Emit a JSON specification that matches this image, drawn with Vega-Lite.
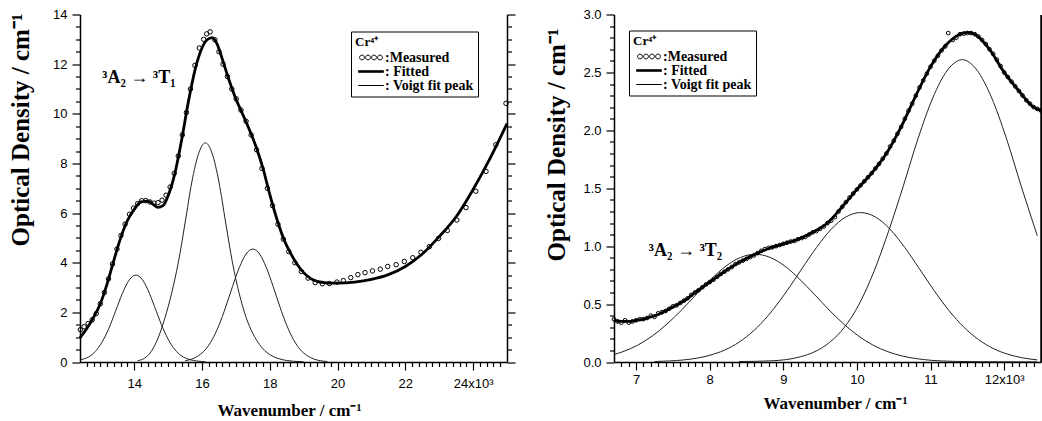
{
  "$schema": "https://vega.github.io/schema/vega-lite/v6.json",
  "background": "white",
  "padding": {"left": 7, "top": 8.5, "right": 0, "bottom": 0},
  "spacing": 27,
  "resolve": {
    "scale": {"x": "independent", "y": "independent", "shape": "independent"},
    "legend": {"shape": "independent"}
  },
  "config": {
    "view": {"stroke": null},
    "axis": {
      "grid": false,
      "domainColor": "black",
      "domainWidth": 1.5,
      "tickColor": "black",
      "tickWidth": 1.2,
      "labelColor": "black",
      "labelFont": "Liberation Sans",
      "labelFontSize": 13,
      "labelOverlap": false,
      "labelFlush": false,
      "labelBound": false,
      "titleFont": "Liberation Serif",
      "titleFontWeight": "bold",
      "titleColor": "black"
    },
    "legend": {
      "titleFont": "Liberation Serif",
      "titleFontSize": 13,
      "titleFontWeight": "bold",
      "titleColor": "black",
      "labelFont": "Liberation Serif",
      "labelFontSize": 14,
      "labelFontWeight": "bold",
      "labelColor": "black",
      "symbolSize": 64,
      "symbolStrokeWidth": 1,
      "symbolStrokeColor": "black",
      "symbolOffset": 9,
      "labelOffset": 7,
      "rowPadding": 0,
      "titlePadding": 2,
      "padding": 4,
      "strokeColor": "black",
      "fillColor": "white",
      "labelLimit": 300
    }
  },
  "datasets": {
    "cr_t1": [
      {"s": "Measured", "wn": 12.41, "od": 1.3}, {"s": "Measured", "wn": 12.52, "od": 1.42}, {"s": "Measured", "wn": 12.64, "od": 1.55}, {"s": "Measured", "wn": 12.76, "od": 1.7}, {"s": "Measured", "wn": 12.88, "od": 1.95}, {"s": "Measured", "wn": 13.0, "od": 2.35}, {"s": "Measured", "wn": 13.12, "od": 2.8}, {"s": "Measured", "wn": 13.24, "od": 3.35}, {"s": "Measured", "wn": 13.36, "od": 3.95}, {"s": "Measured", "wn": 13.49, "od": 4.55}, {"s": "Measured", "wn": 13.61, "od": 5.1}, {"s": "Measured", "wn": 13.73, "od": 5.55}, {"s": "Measured", "wn": 13.86, "od": 5.95}, {"s": "Measured", "wn": 13.98, "od": 6.2}, {"s": "Measured", "wn": 14.1, "od": 6.38}, {"s": "Measured", "wn": 14.22, "od": 6.5}, {"s": "Measured", "wn": 14.34, "od": 6.5}, {"s": "Measured", "wn": 14.46, "od": 6.45}, {"s": "Measured", "wn": 14.58, "od": 6.4}, {"s": "Measured", "wn": 14.7, "od": 6.42}, {"s": "Measured", "wn": 14.82, "od": 6.52}, {"s": "Measured", "wn": 14.94, "od": 6.72}, {"s": "Measured", "wn": 15.06, "od": 7.05}, {"s": "Measured", "wn": 15.18, "od": 7.6}, {"s": "Measured", "wn": 15.3, "od": 8.3}, {"s": "Measured", "wn": 15.42, "od": 9.15}, {"s": "Measured", "wn": 15.54, "od": 10.05}, {"s": "Measured", "wn": 15.66, "od": 11.0}, {"s": "Measured", "wn": 15.79, "od": 11.95}, {"s": "Measured", "wn": 15.92, "od": 12.65}, {"s": "Measured", "wn": 16.05, "od": 13.0}, {"s": "Measured", "wn": 16.14, "od": 13.22}, {"s": "Measured", "wn": 16.24, "od": 13.3}, {"s": "Measured", "wn": 16.38, "od": 12.98}, {"s": "Measured", "wn": 16.5, "od": 12.5}, {"s": "Measured", "wn": 16.62, "od": 12.0}, {"s": "Measured", "wn": 16.75, "od": 11.5}, {"s": "Measured", "wn": 16.88, "od": 11.0}, {"s": "Measured", "wn": 17.01, "od": 10.6}, {"s": "Measured", "wn": 17.15, "od": 10.15}, {"s": "Measured", "wn": 17.3, "od": 9.7}, {"s": "Measured", "wn": 17.45, "od": 9.15}, {"s": "Measured", "wn": 17.61, "od": 8.55}, {"s": "Measured", "wn": 17.77, "od": 7.8}, {"s": "Measured", "wn": 17.93, "od": 7.0}, {"s": "Measured", "wn": 18.08, "od": 6.3}, {"s": "Measured", "wn": 18.24, "od": 5.55}, {"s": "Measured", "wn": 18.4, "od": 4.95}, {"s": "Measured", "wn": 18.56, "od": 4.45}, {"s": "Measured", "wn": 18.74, "od": 4.0}, {"s": "Measured", "wn": 18.93, "od": 3.65}, {"s": "Measured", "wn": 19.13, "od": 3.38}, {"s": "Measured", "wn": 19.34, "od": 3.2}, {"s": "Measured", "wn": 19.55, "od": 3.15}, {"s": "Measured", "wn": 19.76, "od": 3.16}, {"s": "Measured", "wn": 19.98, "od": 3.22}, {"s": "Measured", "wn": 20.17, "od": 3.28}, {"s": "Measured", "wn": 20.39, "od": 3.4}, {"s": "Measured", "wn": 20.6, "od": 3.52}, {"s": "Measured", "wn": 20.81, "od": 3.6}, {"s": "Measured", "wn": 21.03, "od": 3.67}, {"s": "Measured", "wn": 21.26, "od": 3.74}, {"s": "Measured", "wn": 21.48, "od": 3.85}, {"s": "Measured", "wn": 21.73, "od": 3.92}, {"s": "Measured", "wn": 21.97, "od": 4.05}, {"s": "Measured", "wn": 22.22, "od": 4.2}, {"s": "Measured", "wn": 22.46, "od": 4.42}, {"s": "Measured", "wn": 22.71, "od": 4.65}, {"s": "Measured", "wn": 22.98, "od": 4.98}, {"s": "Measured", "wn": 23.24, "od": 5.3}, {"s": "Measured", "wn": 23.52, "od": 5.72}, {"s": "Measured", "wn": 23.79, "od": 6.22}, {"s": "Measured", "wn": 24.08, "od": 6.88}, {"s": "Measured", "wn": 24.38, "od": 7.68}, {"s": "Measured", "wn": 24.67, "od": 8.75}, {"s": "Measured", "wn": 24.97, "od": 10.42},

      {"s": "Fitted", "wn": 12.4, "od": 0.97}, {"s": "Fitted", "wn": 12.6, "od": 1.35}, {"s": "Fitted", "wn": 12.8, "od": 1.8}, {"s": "Fitted", "wn": 13.0, "od": 2.35}, {"s": "Fitted", "wn": 13.2, "od": 3.15}, {"s": "Fitted", "wn": 13.4, "od": 4.1}, {"s": "Fitted", "wn": 13.6, "od": 5.0}, {"s": "Fitted", "wn": 13.8, "od": 5.7}, {"s": "Fitted", "wn": 14.0, "od": 6.15}, {"s": "Fitted", "wn": 14.2, "od": 6.45}, {"s": "Fitted", "wn": 14.4, "od": 6.48}, {"s": "Fitted", "wn": 14.55, "od": 6.36}, {"s": "Fitted", "wn": 14.7, "od": 6.23}, {"s": "Fitted", "wn": 14.85, "od": 6.3}, {"s": "Fitted", "wn": 15.0, "od": 6.7}, {"s": "Fitted", "wn": 15.2, "od": 7.6}, {"s": "Fitted", "wn": 15.4, "od": 8.95}, {"s": "Fitted", "wn": 15.6, "od": 10.5}, {"s": "Fitted", "wn": 15.8, "od": 11.8}, {"s": "Fitted", "wn": 16.0, "od": 12.65}, {"s": "Fitted", "wn": 16.15, "od": 12.98}, {"s": "Fitted", "wn": 16.3, "od": 13.07}, {"s": "Fitted", "wn": 16.45, "od": 12.8}, {"s": "Fitted", "wn": 16.6, "od": 12.2}, {"s": "Fitted", "wn": 16.8, "od": 11.35}, {"s": "Fitted", "wn": 17.0, "od": 10.6}, {"s": "Fitted", "wn": 17.2, "od": 9.98}, {"s": "Fitted", "wn": 17.4, "od": 9.35}, {"s": "Fitted", "wn": 17.6, "od": 8.65}, {"s": "Fitted", "wn": 17.8, "od": 7.8}, {"s": "Fitted", "wn": 18.0, "od": 6.75}, {"s": "Fitted", "wn": 18.2, "od": 5.8}, {"s": "Fitted", "wn": 18.4, "od": 5.0}, {"s": "Fitted", "wn": 18.6, "od": 4.42}, {"s": "Fitted", "wn": 18.8, "od": 3.95}, {"s": "Fitted", "wn": 19.0, "od": 3.6}, {"s": "Fitted", "wn": 19.2, "od": 3.37}, {"s": "Fitted", "wn": 19.4, "od": 3.25}, {"s": "Fitted", "wn": 19.6, "od": 3.2}, {"s": "Fitted", "wn": 19.8, "od": 3.18}, {"s": "Fitted", "wn": 20.0, "od": 3.18}, {"s": "Fitted", "wn": 20.5, "od": 3.22}, {"s": "Fitted", "wn": 21.0, "od": 3.33}, {"s": "Fitted", "wn": 21.5, "od": 3.52}, {"s": "Fitted", "wn": 22.0, "od": 3.85}, {"s": "Fitted", "wn": 22.5, "od": 4.35}, {"s": "Fitted", "wn": 23.0, "od": 5.05}, {"s": "Fitted", "wn": 23.5, "od": 5.85}, {"s": "Fitted", "wn": 24.0, "od": 6.95}, {"s": "Fitted", "wn": 24.5, "od": 8.2}, {"s": "Fitted", "wn": 25.0, "od": 9.6},

      {"s": "Voigt 1", "wn": 12.4, "od": 0.09}, {"s": "Voigt 1", "wn": 12.65, "od": 0.2}, {"s": "Voigt 1", "wn": 12.85, "od": 0.42}, {"s": "Voigt 1", "wn": 13.05, "od": 0.8}, {"s": "Voigt 1", "wn": 13.25, "od": 1.35}, {"s": "Voigt 1", "wn": 13.45, "od": 2.05}, {"s": "Voigt 1", "wn": 13.65, "od": 2.76}, {"s": "Voigt 1", "wn": 13.85, "od": 3.3}, {"s": "Voigt 1", "wn": 14.05, "od": 3.5}, {"s": "Voigt 1", "wn": 14.25, "od": 3.3}, {"s": "Voigt 1", "wn": 14.45, "od": 2.76}, {"s": "Voigt 1", "wn": 14.65, "od": 2.05}, {"s": "Voigt 1", "wn": 14.85, "od": 1.35}, {"s": "Voigt 1", "wn": 15.05, "od": 0.8}, {"s": "Voigt 1", "wn": 15.25, "od": 0.42}, {"s": "Voigt 1", "wn": 15.45, "od": 0.2}, {"s": "Voigt 1", "wn": 15.65, "od": 0.09}, {"s": "Voigt 1", "wn": 15.85, "od": 0.04}, {"s": "Voigt 1", "wn": 16.1, "od": 0.01},

      {"s": "Voigt 2", "wn": 14.1, "od": 0.05}, {"s": "Voigt 2", "wn": 14.3, "od": 0.15}, {"s": "Voigt 2", "wn": 14.5, "od": 0.42}, {"s": "Voigt 2", "wn": 14.7, "od": 0.95}, {"s": "Voigt 2", "wn": 14.9, "od": 1.75}, {"s": "Voigt 2", "wn": 15.1, "od": 2.75}, {"s": "Voigt 2", "wn": 15.3, "od": 4.0}, {"s": "Voigt 2", "wn": 15.5, "od": 5.6}, {"s": "Voigt 2", "wn": 15.7, "od": 7.25}, {"s": "Voigt 2", "wn": 15.9, "od": 8.4}, {"s": "Voigt 2", "wn": 16.1, "od": 8.83}, {"s": "Voigt 2", "wn": 16.3, "od": 8.4}, {"s": "Voigt 2", "wn": 16.5, "od": 7.25}, {"s": "Voigt 2", "wn": 16.7, "od": 5.6}, {"s": "Voigt 2", "wn": 16.9, "od": 4.0}, {"s": "Voigt 2", "wn": 17.1, "od": 2.75}, {"s": "Voigt 2", "wn": 17.3, "od": 1.8}, {"s": "Voigt 2", "wn": 17.5, "od": 1.15}, {"s": "Voigt 2", "wn": 17.7, "od": 0.7}, {"s": "Voigt 2", "wn": 17.9, "od": 0.4}, {"s": "Voigt 2", "wn": 18.1, "od": 0.22}, {"s": "Voigt 2", "wn": 18.3, "od": 0.12}, {"s": "Voigt 2", "wn": 18.5, "od": 0.06}, {"s": "Voigt 2", "wn": 18.7, "od": 0.03}, {"s": "Voigt 2", "wn": 19.0, "od": 0.01},

      {"s": "Voigt 3", "wn": 15.5, "od": 0.05}, {"s": "Voigt 3", "wn": 15.7, "od": 0.12}, {"s": "Voigt 3", "wn": 15.9, "od": 0.26}, {"s": "Voigt 3", "wn": 16.1, "od": 0.5}, {"s": "Voigt 3", "wn": 16.3, "od": 0.9}, {"s": "Voigt 3", "wn": 16.5, "od": 1.48}, {"s": "Voigt 3", "wn": 16.7, "od": 2.22}, {"s": "Voigt 3", "wn": 16.9, "od": 3.04}, {"s": "Voigt 3", "wn": 17.1, "od": 3.8}, {"s": "Voigt 3", "wn": 17.3, "od": 4.35}, {"s": "Voigt 3", "wn": 17.5, "od": 4.55}, {"s": "Voigt 3", "wn": 17.7, "od": 4.35}, {"s": "Voigt 3", "wn": 17.9, "od": 3.8}, {"s": "Voigt 3", "wn": 18.1, "od": 3.04}, {"s": "Voigt 3", "wn": 18.3, "od": 2.22}, {"s": "Voigt 3", "wn": 18.5, "od": 1.48}, {"s": "Voigt 3", "wn": 18.7, "od": 0.9}, {"s": "Voigt 3", "wn": 18.9, "od": 0.5}, {"s": "Voigt 3", "wn": 19.1, "od": 0.26}, {"s": "Voigt 3", "wn": 19.3, "od": 0.12}, {"s": "Voigt 3", "wn": 19.5, "od": 0.05}, {"s": "Voigt 3", "wn": 19.7, "od": 0.02}
    ],
    "cr_t2": [
      {"s": "Measured", "wn": 6.70, "od": 0.37}, {"s": "Measured", "wn": 6.75, "od": 0.35}, {"s": "Measured", "wn": 6.80, "od": 0.34}, {"s": "Measured", "wn": 6.85, "od": 0.36}, {"s": "Measured", "wn": 6.90, "od": 0.34}, {"s": "Measured", "wn": 6.95, "od": 0.35}, {"s": "Measured", "wn": 7.00, "od": 0.36}, {"s": "Measured", "wn": 7.05, "od": 0.37}, {"s": "Measured", "wn": 7.10, "od": 0.37}, {"s": "Measured", "wn": 7.15, "od": 0.38}, {"s": "Measured", "wn": 7.20, "od": 0.40}, {"s": "Measured", "wn": 7.25, "od": 0.39}, {"s": "Measured", "wn": 7.30, "od": 0.42}, {"s": "Measured", "wn": 7.35, "od": 0.43}, {"s": "Measured", "wn": 7.40, "od": 0.44}, {"s": "Measured", "wn": 7.45, "od": 0.46}, {"s": "Measured", "wn": 7.50, "od": 0.48}, {"s": "Measured", "wn": 7.55, "od": 0.49}, {"s": "Measured", "wn": 7.60, "od": 0.51}, {"s": "Measured", "wn": 7.65, "od": 0.53}, {"s": "Measured", "wn": 7.70, "od": 0.55}, {"s": "Measured", "wn": 7.75, "od": 0.58}, {"s": "Measured", "wn": 7.80, "od": 0.60}, {"s": "Measured", "wn": 7.85, "od": 0.62}, {"s": "Measured", "wn": 7.90, "od": 0.645}, {"s": "Measured", "wn": 7.95, "od": 0.67}, {"s": "Measured", "wn": 8.00, "od": 0.69}, {"s": "Measured", "wn": 8.05, "od": 0.71}, {"s": "Measured", "wn": 8.10, "od": 0.735}, {"s": "Measured", "wn": 8.15, "od": 0.76}, {"s": "Measured", "wn": 8.20, "od": 0.78}, {"s": "Measured", "wn": 8.25, "od": 0.80}, {"s": "Measured", "wn": 8.30, "od": 0.82}, {"s": "Measured", "wn": 8.35, "od": 0.845}, {"s": "Measured", "wn": 8.40, "od": 0.86}, {"s": "Measured", "wn": 8.45, "od": 0.875}, {"s": "Measured", "wn": 8.50, "od": 0.89}, {"s": "Measured", "wn": 8.55, "od": 0.905}, {"s": "Measured", "wn": 8.60, "od": 0.92}, {"s": "Measured", "wn": 8.65, "od": 0.94}, {"s": "Measured", "wn": 8.70, "od": 0.96}, {"s": "Measured", "wn": 8.75, "od": 0.975}, {"s": "Measured", "wn": 8.80, "od": 0.985}, {"s": "Measured", "wn": 8.85, "od": 0.99}, {"s": "Measured", "wn": 8.90, "od": 1.0}, {"s": "Measured", "wn": 8.95, "od": 1.01}, {"s": "Measured", "wn": 9.00, "od": 1.02}, {"s": "Measured", "wn": 9.05, "od": 1.03}, {"s": "Measured", "wn": 9.10, "od": 1.04}, {"s": "Measured", "wn": 9.15, "od": 1.045}, {"s": "Measured", "wn": 9.20, "od": 1.06}, {"s": "Measured", "wn": 9.25, "od": 1.07}, {"s": "Measured", "wn": 9.30, "od": 1.08}, {"s": "Measured", "wn": 9.35, "od": 1.10}, {"s": "Measured", "wn": 9.40, "od": 1.12}, {"s": "Measured", "wn": 9.45, "od": 1.13}, {"s": "Measured", "wn": 9.50, "od": 1.15}, {"s": "Measured", "wn": 9.55, "od": 1.17}, {"s": "Measured", "wn": 9.60, "od": 1.20}, {"s": "Measured", "wn": 9.65, "od": 1.22}, {"s": "Measured", "wn": 9.70, "od": 1.25}, {"s": "Measured", "wn": 9.75, "od": 1.30}, {"s": "Measured", "wn": 9.80, "od": 1.34}, {"s": "Measured", "wn": 9.85, "od": 1.38}, {"s": "Measured", "wn": 9.90, "od": 1.42}, {"s": "Measured", "wn": 9.95, "od": 1.455}, {"s": "Measured", "wn": 10.00, "od": 1.49}, {"s": "Measured", "wn": 10.05, "od": 1.525}, {"s": "Measured", "wn": 10.10, "od": 1.56}, {"s": "Measured", "wn": 10.15, "od": 1.595}, {"s": "Measured", "wn": 10.20, "od": 1.63}, {"s": "Measured", "wn": 10.25, "od": 1.67}, {"s": "Measured", "wn": 10.30, "od": 1.71}, {"s": "Measured", "wn": 10.35, "od": 1.755}, {"s": "Measured", "wn": 10.40, "od": 1.80}, {"s": "Measured", "wn": 10.45, "od": 1.86}, {"s": "Measured", "wn": 10.50, "od": 1.91}, {"s": "Measured", "wn": 10.55, "od": 1.97}, {"s": "Measured", "wn": 10.60, "od": 2.03}, {"s": "Measured", "wn": 10.65, "od": 2.10}, {"s": "Measured", "wn": 10.70, "od": 2.17}, {"s": "Measured", "wn": 10.75, "od": 2.23}, {"s": "Measured", "wn": 10.80, "od": 2.30}, {"s": "Measured", "wn": 10.85, "od": 2.37}, {"s": "Measured", "wn": 10.90, "od": 2.43}, {"s": "Measured", "wn": 10.95, "od": 2.49}, {"s": "Measured", "wn": 11.00, "od": 2.55}, {"s": "Measured", "wn": 11.05, "od": 2.60}, {"s": "Measured", "wn": 11.10, "od": 2.645}, {"s": "Measured", "wn": 11.15, "od": 2.69}, {"s": "Measured", "wn": 11.20, "od": 2.725}, {"s": "Measured", "wn": 11.24, "od": 2.84}, {"s": "Measured", "wn": 11.30, "od": 2.78}, {"s": "Measured", "wn": 11.35, "od": 2.80}, {"s": "Measured", "wn": 11.40, "od": 2.83}, {"s": "Measured", "wn": 11.45, "od": 2.835}, {"s": "Measured", "wn": 11.50, "od": 2.84}, {"s": "Measured", "wn": 11.55, "od": 2.84}, {"s": "Measured", "wn": 11.60, "od": 2.83}, {"s": "Measured", "wn": 11.65, "od": 2.81}, {"s": "Measured", "wn": 11.70, "od": 2.78}, {"s": "Measured", "wn": 11.75, "od": 2.745}, {"s": "Measured", "wn": 11.80, "od": 2.70}, {"s": "Measured", "wn": 11.85, "od": 2.66}, {"s": "Measured", "wn": 11.90, "od": 2.61}, {"s": "Measured", "wn": 11.95, "od": 2.555}, {"s": "Measured", "wn": 12.00, "od": 2.50}, {"s": "Measured", "wn": 12.05, "od": 2.46}, {"s": "Measured", "wn": 12.10, "od": 2.42}, {"s": "Measured", "wn": 12.15, "od": 2.38}, {"s": "Measured", "wn": 12.20, "od": 2.34}, {"s": "Measured", "wn": 12.25, "od": 2.30}, {"s": "Measured", "wn": 12.30, "od": 2.26}, {"s": "Measured", "wn": 12.35, "od": 2.23}, {"s": "Measured", "wn": 12.40, "od": 2.20}, {"s": "Measured", "wn": 12.45, "od": 2.185}, {"s": "Measured", "wn": 12.50, "od": 2.17},

      {"s": "Fitted", "wn": 6.7, "od": 0.36}, {"s": "Fitted", "wn": 6.8, "od": 0.35}, {"s": "Fitted", "wn": 6.9, "od": 0.35}, {"s": "Fitted", "wn": 7.0, "od": 0.36}, {"s": "Fitted", "wn": 7.1, "od": 0.37}, {"s": "Fitted", "wn": 7.2, "od": 0.39}, {"s": "Fitted", "wn": 7.3, "od": 0.41}, {"s": "Fitted", "wn": 7.4, "od": 0.44}, {"s": "Fitted", "wn": 7.5, "od": 0.475}, {"s": "Fitted", "wn": 7.6, "od": 0.51}, {"s": "Fitted", "wn": 7.7, "od": 0.55}, {"s": "Fitted", "wn": 7.8, "od": 0.6}, {"s": "Fitted", "wn": 7.9, "od": 0.645}, {"s": "Fitted", "wn": 8.0, "od": 0.69}, {"s": "Fitted", "wn": 8.2, "od": 0.78}, {"s": "Fitted", "wn": 8.4, "od": 0.86}, {"s": "Fitted", "wn": 8.6, "od": 0.925}, {"s": "Fitted", "wn": 8.8, "od": 0.98}, {"s": "Fitted", "wn": 9.0, "od": 1.02}, {"s": "Fitted", "wn": 9.2, "od": 1.06}, {"s": "Fitted", "wn": 9.4, "od": 1.12}, {"s": "Fitted", "wn": 9.6, "od": 1.2}, {"s": "Fitted", "wn": 9.8, "od": 1.34}, {"s": "Fitted", "wn": 10.0, "od": 1.49}, {"s": "Fitted", "wn": 10.2, "od": 1.63}, {"s": "Fitted", "wn": 10.4, "od": 1.8}, {"s": "Fitted", "wn": 10.6, "od": 2.03}, {"s": "Fitted", "wn": 10.8, "od": 2.3}, {"s": "Fitted", "wn": 11.0, "od": 2.55}, {"s": "Fitted", "wn": 11.2, "od": 2.73}, {"s": "Fitted", "wn": 11.4, "od": 2.83}, {"s": "Fitted", "wn": 11.5, "od": 2.845}, {"s": "Fitted", "wn": 11.6, "od": 2.83}, {"s": "Fitted", "wn": 11.8, "od": 2.7}, {"s": "Fitted", "wn": 12.0, "od": 2.5}, {"s": "Fitted", "wn": 12.2, "od": 2.34}, {"s": "Fitted", "wn": 12.4, "od": 2.2}, {"s": "Fitted", "wn": 12.5, "od": 2.17},

      {"s": "Voigt 1", "wn": 6.7, "od": 0.065}, {"s": "Voigt 1", "wn": 6.82, "od": 0.089}, {"s": "Voigt 1", "wn": 7.02, "od": 0.145}, {"s": "Voigt 1", "wn": 7.22, "od": 0.225}, {"s": "Voigt 1", "wn": 7.42, "od": 0.328}, {"s": "Voigt 1", "wn": 7.62, "od": 0.45}, {"s": "Voigt 1", "wn": 7.82, "od": 0.585}, {"s": "Voigt 1", "wn": 8.02, "od": 0.716}, {"s": "Voigt 1", "wn": 8.22, "od": 0.828}, {"s": "Voigt 1", "wn": 8.42, "od": 0.903}, {"s": "Voigt 1", "wn": 8.62, "od": 0.93}, {"s": "Voigt 1", "wn": 8.82, "od": 0.903}, {"s": "Voigt 1", "wn": 9.02, "od": 0.828}, {"s": "Voigt 1", "wn": 9.22, "od": 0.716}, {"s": "Voigt 1", "wn": 9.42, "od": 0.585}, {"s": "Voigt 1", "wn": 9.62, "od": 0.45}, {"s": "Voigt 1", "wn": 9.82, "od": 0.328}, {"s": "Voigt 1", "wn": 10.02, "od": 0.225}, {"s": "Voigt 1", "wn": 10.22, "od": 0.145}, {"s": "Voigt 1", "wn": 10.42, "od": 0.089}, {"s": "Voigt 1", "wn": 10.62, "od": 0.051}, {"s": "Voigt 1", "wn": 10.82, "od": 0.028}, {"s": "Voigt 1", "wn": 11.02, "od": 0.014}, {"s": "Voigt 1", "wn": 11.3, "od": 0.006}, {"s": "Voigt 1", "wn": 11.8, "od": 0.002}, {"s": "Voigt 1", "wn": 12.45, "od": 0.001},

      {"s": "Voigt 2", "wn": 7.25, "od": 0.004}, {"s": "Voigt 2", "wn": 7.45, "od": 0.009}, {"s": "Voigt 2", "wn": 7.65, "od": 0.018}, {"s": "Voigt 2", "wn": 7.85, "od": 0.036}, {"s": "Voigt 2", "wn": 8.05, "od": 0.067}, {"s": "Voigt 2", "wn": 8.25, "od": 0.117}, {"s": "Voigt 2", "wn": 8.45, "od": 0.194}, {"s": "Voigt 2", "wn": 8.65, "od": 0.302}, {"s": "Voigt 2", "wn": 8.85, "od": 0.444}, {"s": "Voigt 2", "wn": 9.05, "od": 0.615}, {"s": "Voigt 2", "wn": 9.25, "od": 0.803}, {"s": "Voigt 2", "wn": 9.45, "od": 0.988}, {"s": "Voigt 2", "wn": 9.65, "od": 1.146}, {"s": "Voigt 2", "wn": 9.85, "od": 1.252}, {"s": "Voigt 2", "wn": 10.05, "od": 1.29}, {"s": "Voigt 2", "wn": 10.25, "od": 1.252}, {"s": "Voigt 2", "wn": 10.45, "od": 1.146}, {"s": "Voigt 2", "wn": 10.65, "od": 0.988}, {"s": "Voigt 2", "wn": 10.85, "od": 0.803}, {"s": "Voigt 2", "wn": 11.05, "od": 0.615}, {"s": "Voigt 2", "wn": 11.25, "od": 0.444}, {"s": "Voigt 2", "wn": 11.45, "od": 0.302}, {"s": "Voigt 2", "wn": 11.65, "od": 0.194}, {"s": "Voigt 2", "wn": 11.85, "od": 0.117}, {"s": "Voigt 2", "wn": 12.05, "od": 0.067}, {"s": "Voigt 2", "wn": 12.25, "od": 0.036}, {"s": "Voigt 2", "wn": 12.45, "od": 0.018},

      {"s": "Voigt 3", "wn": 8.4, "od": 0.004}, {"s": "Voigt 3", "wn": 8.63, "od": 0.006}, {"s": "Voigt 3", "wn": 8.83, "od": 0.01}, {"s": "Voigt 3", "wn": 9.03, "od": 0.02}, {"s": "Voigt 3", "wn": 9.23, "od": 0.045}, {"s": "Voigt 3", "wn": 9.43, "od": 0.09}, {"s": "Voigt 3", "wn": 9.63, "od": 0.17}, {"s": "Voigt 3", "wn": 9.83, "od": 0.3}, {"s": "Voigt 3", "wn": 10.03, "od": 0.5}, {"s": "Voigt 3", "wn": 10.23, "od": 0.78}, {"s": "Voigt 3", "wn": 10.43, "od": 1.13}, {"s": "Voigt 3", "wn": 10.63, "od": 1.52}, {"s": "Voigt 3", "wn": 10.83, "od": 1.93}, {"s": "Voigt 3", "wn": 11.03, "od": 2.28}, {"s": "Voigt 3", "wn": 11.23, "od": 2.52}, {"s": "Voigt 3", "wn": 11.43, "od": 2.61}, {"s": "Voigt 3", "wn": 11.63, "od": 2.52}, {"s": "Voigt 3", "wn": 11.83, "od": 2.28}, {"s": "Voigt 3", "wn": 12.03, "od": 1.93}, {"s": "Voigt 3", "wn": 12.23, "od": 1.52}, {"s": "Voigt 3", "wn": 12.45, "od": 1.09}
    ]
  },
  "hconcat": [
    {
      "width": 427,
      "height": 347.5,
      "data": {"name": "cr_t1"},
      "resolve": {"axis": {"x": "independent", "y": "independent"}},
      "layer": [
        {
          "transform": [{"filter": "indexof(datum.s, 'Voigt') == 0"}],
          "mark": {"type": "line", "color": "#222", "strokeWidth": 1, "interpolate": "monotone"},
          "encoding": {
            "x": {
              "field": "wn", "type": "quantitative",
              "scale": {"domain": [12.4, 25.0], "nice": false, "zero": false},
              "axis": {
                "orient": "bottom",
                "values": [14, 16, 18, 20, 22, 24],
                "tickSize": 8,
                "labelExpr": "datum.value == 24 ? '24x10³' : format(datum.value, 'd')",
                "labelPadding": 7,
                "title": "Wavenumber / cm⁻¹",
                "titleFontSize": 17,
                "titleX": 209,
                "titleY": 48,
                "titleBaseline": "middle",
                "titleAlign": "center"
              }
            },
            "y": {
              "field": "od", "type": "quantitative",
              "scale": {"domain": [0, 14], "nice": false, "zero": false},
              "axis": {
                "orient": "left",
                "values": [0, 2, 4, 6, 8, 10, 12, 14],
                "tickSize": 8,
                "format": "d",
                "labelPadding": 5,
                "title": "Optical Density / cm⁻¹",
                "titleFontSize": 25,
                "titleX": -60,
                "titleY": 115,
                "titleAngle": -90,
                "titleBaseline": "middle",
                "titleAlign": "center"
              }
            },
            "detail": {"field": "s"}
          }
        },
        {
          "transform": [{"filter": "datum.s == 'Fitted'"}],
          "mark": {"type": "line", "color": "black", "strokeWidth": 2.8, "interpolate": "monotone"},
          "encoding": {
            "x": {
              "field": "wn", "type": "quantitative",
              "scale": {"domain": [12.4, 25.0], "nice": false, "zero": false},
              "axis": {
                "orient": "bottom",
                "values": [12.6, 12.8, 13, 13.2, 13.4, 13.6, 13.8, 14.2, 14.4, 14.6, 14.8, 15, 15.2, 15.4, 15.6, 15.8, 16.2, 16.4, 16.6, 16.8, 17, 17.2, 17.4, 17.6, 17.8, 18.2, 18.4, 18.6, 18.8, 19, 19.2, 19.4, 19.6, 19.8, 20.2, 20.4, 20.6, 20.8, 21, 21.2, 21.4, 21.6, 21.8, 22.2, 22.4, 22.6, 22.8, 23, 23.2, 23.4, 23.6, 23.8, 24.2, 24.4, 24.6, 24.8],
                "tickSize": 4.5,
                "labels": false,
                "domain": false,
                "title": null
              }
            },
            "y": {
              "field": "od", "type": "quantitative",
              "scale": {"domain": [0, 14], "nice": false, "zero": false},
              "axis": {
                "orient": "left",
                "values": [0.5, 1, 1.5, 2.5, 3, 3.5, 4.5, 5, 5.5, 6.5, 7, 7.5, 8.5, 9, 9.5, 10.5, 11, 11.5, 12.5, 13, 13.5],
                "tickSize": 4.5,
                "labels": false,
                "domain": false,
                "title": null
              }
            }
          }
        },
        {
          "transform": [{"filter": "datum.s == 'Measured'"}],
          "mark": {"type": "point", "filled": false, "size": 20, "strokeWidth": 1, "color": "black", "opacity": 1},
          "encoding": {
            "x": {"field": "wn", "type": "quantitative", "scale": {"domain": [12.4, 25.0], "nice": false, "zero": false}, "axis": null},
            "y": {
              "field": "od", "type": "quantitative",
              "scale": {"domain": [0, 14], "nice": false, "zero": false},
              "axis": {
                "orient": "right",
                "values": [0, 0.5, 1, 1.5, 2, 2.5, 3, 3.5, 4, 4.5, 5, 5.5, 6, 6.5, 7, 7.5, 8, 8.5, 9, 9.5, 10, 10.5, 11, 11.5, 12, 12.5, 13, 13.5, 14],
                "tickSize": {"condition": {"test": "datum.value % 2 == 0", "value": 8}, "value": 4.5},
                "labels": false,
                "title": null
              }
            }
          }
        },
        {
          "transform": [{"filter": "datum.s == 'key'"}],
          "mark": {"type": "point", "filled": false, "size": 64, "strokeWidth": 1, "color": "black", "opacity": 1},
          "encoding": {
            "x": {"field": "wn", "type": "quantitative", "scale": {"domain": [12.4, 25.0], "nice": false, "zero": false}, "axis": null},
            "y": {"field": "od", "type": "quantitative", "scale": {"domain": [0, 14], "nice": false, "zero": false}, "axis": null},
            "shape": {
              "field": "s", "type": "nominal",
              "scale": {
                "domain": ["Measured", "Fitted", "Voigt fit peak"],
                "range": [
                  "M-2.85,0a0.6,0.6 0 1,0 1.2,0a0.6,0.6 0 1,0 -1.2,0M-1.35,0a0.6,0.6 0 1,0 1.2,0a0.6,0.6 0 1,0 -1.2,0M0.15,0a0.6,0.6 0 1,0 1.2,0a0.6,0.6 0 1,0 -1.2,0M1.65,0a0.6,0.6 0 1,0 1.2,0a0.6,0.6 0 1,0 -1.2,0",
                  "M-3.2,-0.2H3.2M-3.2,0H3.2M-3.2,0.2H3.2",
                  "M-3.2,0H3.2"
                ]
              },
              "legend": {
                "title": "Cr⁴⁺",
                "orient": "none",
                "legendX": 271,
                "legendY": 17,
                "direction": "vertical",
                "titleAnchor": "start",
                "labelExpr": "datum.label == 'Measured' ? ':Measured' : ': ' + datum.label"
              }
            }
          }
        },
        {
          "data": {"values": [{"note": "³A₂ → ³T₁"}]},
          "mark": {"type": "text", "align": "left", "baseline": "middle", "font": "Liberation Serif", "fontWeight": "bold", "fontSize": 18, "color": "black"},
          "encoding": {
            "x": {"datum": 13.05, "type": "quantitative", "axis": null},
            "y": {"datum": 11.45, "type": "quantitative", "axis": null},
            "text": {"field": "note"}
          }
        }
      ]
    },
    {
      "width": 427,
      "height": 347.5,
      "data": {"name": "cr_t2"},
      "resolve": {"axis": {"x": "independent", "y": "independent"}},
      "layer": [
        {
          "transform": [{"filter": "indexof(datum.s, 'Voigt') == 0"}],
          "mark": {"type": "line", "color": "#222", "strokeWidth": 1, "interpolate": "monotone"},
          "encoding": {
            "x": {
              "field": "wn", "type": "quantitative",
              "scale": {"domain": [6.7, 12.5], "nice": false, "zero": false},
              "axis": {
                "orient": "bottom",
                "values": [7, 8, 9, 10, 11, 12],
                "tickSize": 8,
                "labelExpr": "datum.value == 12 ? '12x10³' : format(datum.value, 'd')",
                "labelPadding": 3,
                "title": "Wavenumber / cm⁻¹",
                "titleFontSize": 17,
                "titleX": 221,
                "titleY": 41,
                "titleBaseline": "middle",
                "titleAlign": "center"
              }
            },
            "y": {
              "field": "od", "type": "quantitative",
              "scale": {"domain": [0, 3], "nice": false, "zero": false},
              "axis": {
                "orient": "left",
                "values": [0, 0.5, 1, 1.5, 2, 2.5, 3],
                "tickSize": 8,
                "format": ".1f",
                "labelPadding": 5,
                "title": "Optical Density / cm⁻¹",
                "titleFontSize": 25,
                "titleX": -58,
                "titleY": 130,
                "titleAngle": -90,
                "titleBaseline": "middle",
                "titleAlign": "center"
              }
            },
            "detail": {"field": "s"}
          }
        },
        {
          "transform": [{"filter": "datum.s == 'Fitted'"}],
          "mark": {"type": "line", "color": "black", "strokeWidth": 2.8, "interpolate": "monotone"},
          "encoding": {
            "x": {
              "field": "wn", "type": "quantitative",
              "scale": {"domain": [6.7, 12.5], "nice": false, "zero": false},
              "axis": {
                "orient": "bottom",
                "values": [6.8, 6.9, 7.1, 7.2, 7.3, 7.4, 7.5, 7.6, 7.7, 7.8, 7.9, 8.1, 8.2, 8.3, 8.4, 8.5, 8.6, 8.7, 8.8, 8.9, 9.1, 9.2, 9.3, 9.4, 9.5, 9.6, 9.7, 9.8, 9.9, 10.1, 10.2, 10.3, 10.4, 10.5, 10.6, 10.7, 10.8, 10.9, 11.1, 11.2, 11.3, 11.4, 11.5, 11.6, 11.7, 11.8, 11.9, 12.1, 12.2, 12.3, 12.4],
                "tickSize": 4.5,
                "labels": false,
                "domain": false,
                "title": null
              }
            },
            "y": {
              "field": "od", "type": "quantitative",
              "scale": {"domain": [0, 3], "nice": false, "zero": false},
              "axis": {
                "orient": "left",
                "values": [0.1, 0.2, 0.3, 0.4, 0.6, 0.7, 0.8, 0.9, 1.1, 1.2, 1.3, 1.4, 1.6, 1.7, 1.8, 1.9, 2.1, 2.2, 2.3, 2.4, 2.6, 2.7, 2.8, 2.9],
                "tickSize": 4.5,
                "labels": false,
                "domain": false,
                "title": null
              }
            }
          }
        },
        {
          "transform": [{"filter": "datum.s == 'Measured'"}],
          "mark": {"type": "point", "filled": false, "size": 14, "strokeWidth": 1, "color": "black", "opacity": 1},
          "encoding": {
            "x": {"field": "wn", "type": "quantitative", "scale": {"domain": [6.7, 12.5], "nice": false, "zero": false}, "axis": null},
            "y": {
              "field": "od", "type": "quantitative",
              "scale": {"domain": [0, 3], "nice": false, "zero": false},
              "axis": {"orient": "right", "ticks": false, "labels": false, "title": null, "domainWidth": 2.5}
            }
          }
        },
        {
          "transform": [{"filter": "datum.s == 'key'"}],
          "mark": {"type": "point", "filled": false, "size": 64, "strokeWidth": 1, "color": "black", "opacity": 1},
          "encoding": {
            "x": {"field": "wn", "type": "quantitative", "scale": {"domain": [6.7, 12.5], "nice": false, "zero": false}, "axis": null},
            "y": {"field": "od", "type": "quantitative", "scale": {"domain": [0, 3], "nice": false, "zero": false}, "axis": null},
            "shape": {
              "field": "s", "type": "nominal",
              "scale": {
                "domain": ["Measured", "Fitted", "Voigt fit peak"],
                "range": [
                  "M-2.85,0a0.6,0.6 0 1,0 1.2,0a0.6,0.6 0 1,0 -1.2,0M-1.35,0a0.6,0.6 0 1,0 1.2,0a0.6,0.6 0 1,0 -1.2,0M0.15,0a0.6,0.6 0 1,0 1.2,0a0.6,0.6 0 1,0 -1.2,0M1.65,0a0.6,0.6 0 1,0 1.2,0a0.6,0.6 0 1,0 -1.2,0",
                  "M-3.2,-0.2H3.2M-3.2,0H3.2M-3.2,0.2H3.2",
                  "M-3.2,0H3.2"
                ]
              },
              "legend": {
                "title": "Cr⁴⁺",
                "orient": "none",
                "legendX": 15,
                "legendY": 16,
                "direction": "vertical",
                "titleAnchor": "start",
                "labelExpr": "datum.label == 'Measured' ? ':Measured' : ': ' + datum.label"
              }
            }
          }
        },
        {
          "data": {"values": [{"note": "³A₂ → ³T₂"}]},
          "mark": {"type": "text", "align": "left", "baseline": "middle", "font": "Liberation Serif", "fontWeight": "bold", "fontSize": 18, "color": "black"},
          "encoding": {
            "x": {"datum": 7.17, "type": "quantitative", "axis": null},
            "y": {"datum": 0.96, "type": "quantitative", "axis": null},
            "text": {"field": "note"}
          }
        }
      ]
    }
  ]
}
